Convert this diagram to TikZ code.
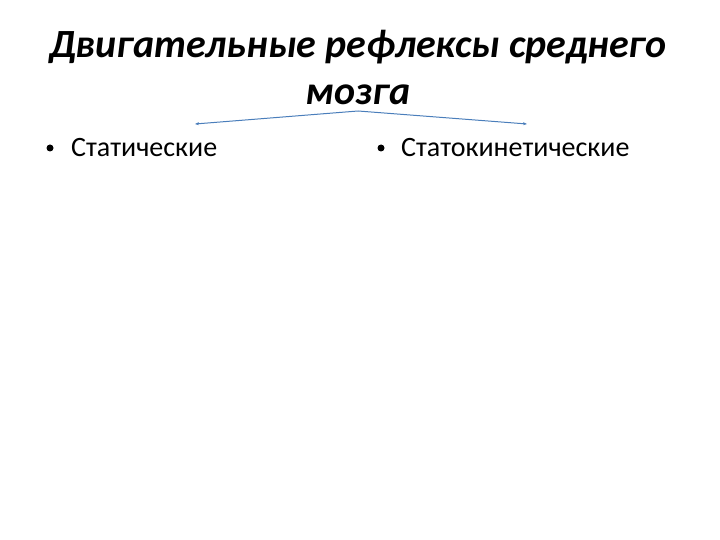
\documentclass[tikz,border=0pt]{standalone}
\usepackage{fontspec}
\setmainfont{Carlito}
\usetikzlibrary{arrows.meta}
\definecolor{lineblue}{HTML}{4A7EBB}
\tikzset{
  title/.style={font=\fontsize{40}{48}\selectfont\bfseries\itshape, inner sep=0pt, anchor=base},
  item/.style={font=\fontsize{28}{34}\selectfont, inner sep=0pt, anchor=base west},
  bul/.style={circle, fill=black, inner sep=0pt, minimum size=7pt},
  conn/.style={draw=lineblue, line width=1pt, -{Stealth[length=4pt,width=3pt]}}
}
\begin{document}
\begin{tikzpicture}[x=1pt,y=-1pt]
\useasboundingbox[fill=white] (0,0) rectangle (720,540);
\node[title] (t1) at (358,58) {Двигательные рефлексы среднего};
\node[title] (t2) at (358,105) {мозга};
\node[bul] (d1) at (50,148) {};
\node[item] (b1) at (71,157) {Статические};
\node[bul] (d2) at (381,148) {};
\node[item] (b2) at (401,157) {Статокинетические};
\coordinate (apex) at (358,111);
\coordinate (le) at (195,124);
\coordinate (re) at (527,124);
\draw[conn] (apex) -- (le);
\draw[conn] (apex) -- (re);
\end{tikzpicture}
\end{document}
